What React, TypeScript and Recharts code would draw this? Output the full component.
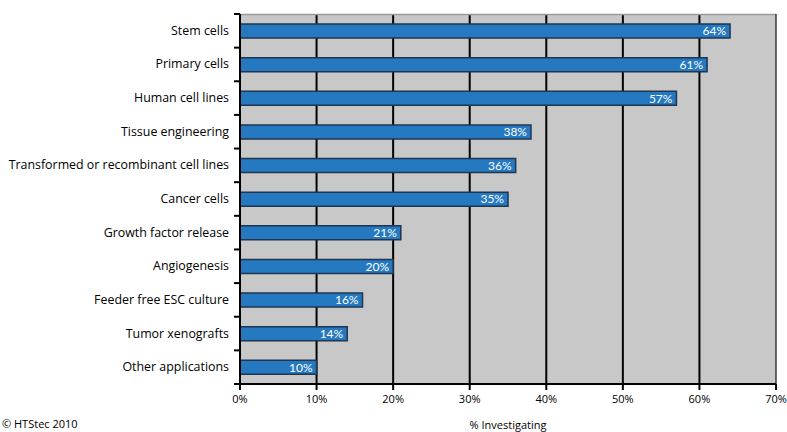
import React from 'react';
import { BarChart, Bar, XAxis, YAxis, CartesianGrid, LabelList, ReferenceLine } from 'recharts';

const categories = [
  'Stem cells',
  'Primary cells',
  'Human cell lines',
  'Tissue engineering',
  'Transformed or recombinant cell lines',
  'Cancer cells',
  'Growth factor release',
  'Angiogenesis',
  'Feeder free ESC culture',
  'Tumor xenografts',
  'Other applications',
];
const values = [64, 61, 57, 38, 36, 35, 21, 20, 16, 14, 10];
const xTicks = [0, 10, 20, 30, 40, 50, 60, 70];
const X_MAX = 70;

const data = categories.map((name, i) => ({ name, value: values[i] }));

const W = 787;
const H = 432;
const YW = 240;
const M = { top: 14, right: 11, bottom: 18, left: 0 };
const XH = 30;
const PLOT_H = H - M.top - M.bottom - XH;
const BAND = PLOT_H / categories.length;
const AXIS_X = M.left + YW;

const YTick = (props: any) => {
  const { y, payload, index } = props;
  return (
    <g>
      {index === 0 && (
        <line x1={AXIS_X - 6} x2={AXIS_X} y1={y - BAND / 2} y2={y - BAND / 2} stroke="#000" strokeWidth={2} />
      )}
      <line x1={AXIS_X - 6} x2={AXIS_X} y1={y + BAND / 2} y2={y + BAND / 2} stroke="#000" strokeWidth={2} />
      <text x={AXIS_X - 11} y={y} dy={4} textAnchor="end" fontSize={12.4} fill="#000" fontFamily="Open Sans, sans-serif">
        {payload.value}
      </text>
    </g>
  );
};

export default function App() {
  return (
    <div style={{ position: 'absolute', left: 0, top: 0, width: W, height: H, background: '#fff', overflow: 'hidden' }}>
      <BarChart width={W} height={H} data={data} layout="vertical" margin={M}>
        <CartesianGrid
          fill="#c8c8c8"
          stroke="#000"
          strokeWidth={2}
          horizontal={false}
          vertical={true}
          strokeOpacity={1}
          verticalCoordinatesGenerator={({ offset }: any) =>
            xTicks.slice(0, -1).map((t) => offset.left + (t / X_MAX) * offset.width)
          }
        />
        <CartesianGrid
          stroke="#9a9a9a"
          strokeWidth={1.5}
          vertical={false}
          horizontal={true}
          horizontalCoordinatesGenerator={({ offset }: any) => [offset.top + 0.5]}
        />
        <ReferenceLine x={X_MAX} stroke="#3a3a3a" strokeWidth={1.5} />
        <XAxis
          type="number"
          domain={[0, X_MAX]}
          ticks={xTicks}
          tickFormatter={(v: number) => `${v}%`}
          height={XH}
          axisLine={{ stroke: '#000', strokeWidth: 2 }}
          tickLine={{ stroke: '#000', strokeWidth: 2 }}
          tickSize={6}
          tick={{ fill: '#000', fontSize: 11, fontFamily: 'Open Sans, sans-serif' }}
          tickMargin={5}
          interval={0}
        />
        <YAxis
          type="category"
          dataKey="name"
          width={YW}
          axisLine={{ stroke: '#000', strokeWidth: 2 }}
          tickLine={false}
          tick={<YTick />}
          interval={0}
        />
        <Bar dataKey="value" fill="#2579c0" stroke="#1f3550" strokeWidth={1.5} barSize={14} isAnimationActive={false}>
          <LabelList
            dataKey="value"
            position="insideRight"
            offset={4}
            formatter={(v: number) => `${v}%`}
            fill="#fff"
            fontSize={12}
            fontFamily="Lato, sans-serif"
          />
        </Bar>
      </BarChart>
      <div
        style={{
          position: 'absolute',
          left: 240,
          width: 536,
          top: 417,
          textAlign: 'center',
          fontSize: 11,
          fontFamily: 'Open Sans, sans-serif',
          color: '#000',
        }}
      >
        % Investigating
      </div>
      <div
        style={{
          position: 'absolute',
          left: 2,
          top: 416,
          fontSize: 11,
          fontFamily: 'Open Sans, sans-serif',
          color: '#000',
        }}
      >
        © HTStec 2010
      </div>
    </div>
  );
}
